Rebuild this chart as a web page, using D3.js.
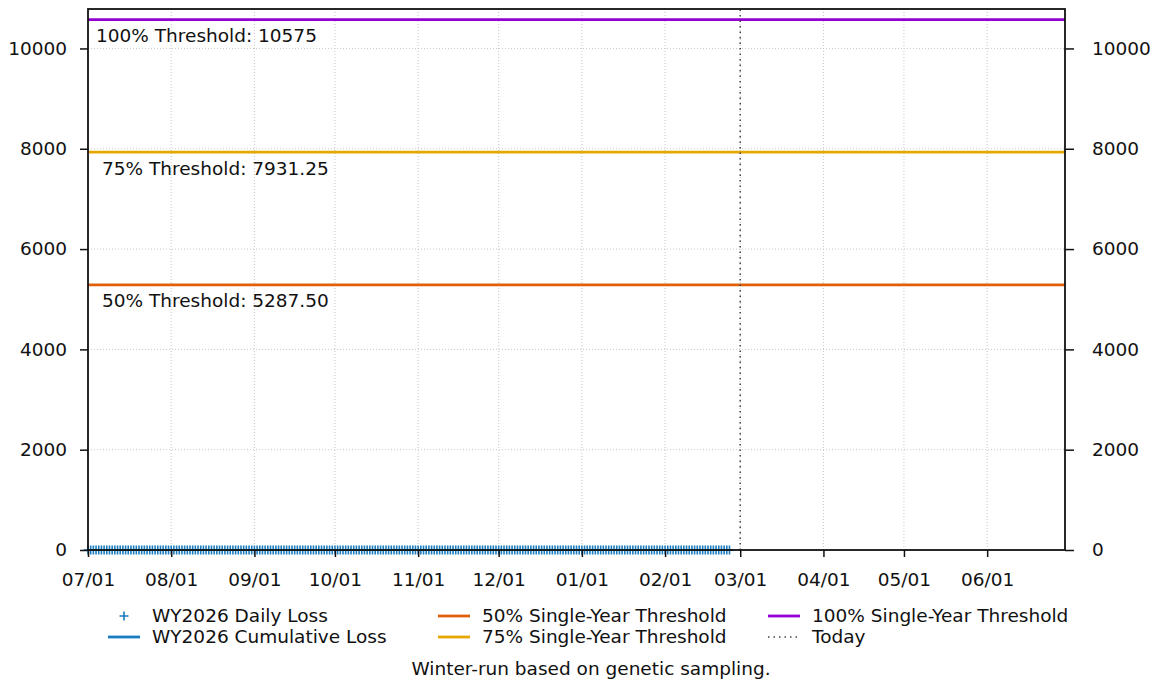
<!DOCTYPE html>
<html>
<head>
<meta charset="utf-8">
<script src="https://cdn.jsdelivr.net/npm/d3@7"></script>
<style>
  body { margin: 0; background: #fff; }
  svg text { font-family: "DejaVu Sans", sans-serif; fill: #111; }
</style>
</head>
<body>
<svg id="canvas_loss" width="1156" height="684"></svg>
<script>
'use strict';

/* water year window and sampling dates */
const yearStart = '2025-07-01';
const yearEnd = '2026-06-30';
const lastSample = '2026-02-25';
const today = '2026-03-01';

/* daily loss, one value per day from 07/01 to the last sample (all zero so far) */
const dailyLoss = [
  0,0,0,0,0,0,0,0,0,0,0,0,0,0,0,0,0,0,0,0,0,0,0,0,0,0,0,0,0,0,0,
  0,0,0,0,0,0,0,0,0,0,0,0,0,0,0,0,0,0,0,0,0,0,0,0,0,0,0,0,0,0,0,
  0,0,0,0,0,0,0,0,0,0,0,0,0,0,0,0,0,0,0,0,0,0,0,0,0,0,0,0,0,0,
  0,0,0,0,0,0,0,0,0,0,0,0,0,0,0,0,0,0,0,0,0,0,0,0,0,0,0,0,0,0,0,
  0,0,0,0,0,0,0,0,0,0,0,0,0,0,0,0,0,0,0,0,0,0,0,0,0,0,0,0,0,0,
  0,0,0,0,0,0,0,0,0,0,0,0,0,0,0,0,0,0,0,0,0,0,0,0,0,0,0,0,0,0,0,
  0,0,0,0,0,0,0,0,0,0,0,0,0,0,0,0,0,0,0,0,0,0,0,0,0,0,0,0,0,0,0,
  0,0,0,0,0,0,0,0,0,0,0,0,0,0,0,0,0,0,0,0,0,0,0,0,0
];
/* cumulative loss on the same days */
const cumulativeLoss = [
  0,0,0,0,0,0,0,0,0,0,0,0,0,0,0,0,0,0,0,0,0,0,0,0,0,0,0,0,0,0,0,
  0,0,0,0,0,0,0,0,0,0,0,0,0,0,0,0,0,0,0,0,0,0,0,0,0,0,0,0,0,0,0,
  0,0,0,0,0,0,0,0,0,0,0,0,0,0,0,0,0,0,0,0,0,0,0,0,0,0,0,0,0,0,
  0,0,0,0,0,0,0,0,0,0,0,0,0,0,0,0,0,0,0,0,0,0,0,0,0,0,0,0,0,0,0,
  0,0,0,0,0,0,0,0,0,0,0,0,0,0,0,0,0,0,0,0,0,0,0,0,0,0,0,0,0,0,
  0,0,0,0,0,0,0,0,0,0,0,0,0,0,0,0,0,0,0,0,0,0,0,0,0,0,0,0,0,0,0,
  0,0,0,0,0,0,0,0,0,0,0,0,0,0,0,0,0,0,0,0,0,0,0,0,0,0,0,0,0,0,0,
  0,0,0,0,0,0,0,0,0,0,0,0,0,0,0,0,0,0,0,0,0,0,0,0,0
];

/* single-year thresholds */
const thresholdNames = ['50%', '75%', '100%'];
const thresholdValues = [5287.50, 7931.25, 10575];
const thresholdLabels = ['50% Threshold: 5287.50', '75% Threshold: 7931.25', '100% Threshold: 10575'];
const thresholdColors = ['#e0600a', '#e6a800', '#9400d3'];

/* axis ticks */
const xTickLabels = ['07/01','08/01','09/01','10/01','11/01','12/01','01/01','02/01','03/01','04/01','05/01','06/01'];
const yTicks = [0, 2000, 4000, 6000, 8000, 10000];

const blue = '#1a7cc0';
const fontSize = 18.5;
const margin = { top: 9, right: 91, bottom: 134, left: 88 };
const width = 1156, height = 684;

const parse = d3.utcParse('%Y-%m-%d');

/* dates for each sampled day */
const days = d3.utcDay.range(parse(yearStart), d3.utcDay.offset(parse(lastSample), 1));
const daily = days.map((d, i) => ({ date: d, value: dailyLoss[i] }));
const cumulative = days.map((d, i) => ({ date: d, value: cumulativeLoss[i] }));

const X = d3.scaleUtc()
  .domain([parse(yearStart), parse(yearEnd)])
  .range([margin.left, width - margin.right]);
const Y = d3.scaleLinear()
  .domain([0, d3.max(thresholdValues) * 1.02])
  .range([height - margin.bottom, margin.top]);

const svg = d3.select('svg#canvas_loss');
const x0 = X.range()[0], x1 = X.range()[1];
const y0 = Y.range()[0], y1 = Y.range()[1];

// x ticks at the first of each month
const monthTicks = d3.utcMonth.range(parse(yearStart), d3.utcDay.offset(parse(yearEnd), 1));

/* grid */
let grid = svg.append('g').attr('id', 'grid')
  .attr('stroke', '#c8c8c8').attr('stroke-width', 1).attr('stroke-dasharray', '1,2');
grid.selectAll('line.v').data(monthTicks.slice(1)).enter().append('line')
  .attr('x1', d => X(d)).attr('x2', d => X(d)).attr('y1', y0).attr('y2', y1);
grid.selectAll('line.h').data(yTicks.slice(1)).enter().append('line')
  .attr('x1', x0).attr('x2', x1).attr('y1', d => Y(d)).attr('y2', d => Y(d));

/* threshold lines and their labels */
thresholdValues.forEach((v, i) => {
  svg.append('line')
    .attr('x1', x0).attr('x2', x1).attr('y1', Y(v)).attr('y2', Y(v))
    .attr('stroke', thresholdColors[i]).attr('stroke-width', 2.8);
  svg.append('text')
    .attr('x', x0 + (i === 2 ? 8 : 14)).attr('y', Y(v) + 22.5)
    .attr('font-size', fontSize)
    .text(thresholdLabels[i]);
});

/* today */
svg.append('line')
  .attr('x1', X(parse(today))).attr('x2', X(parse(today)))
  .attr('y1', y0).attr('y2', y1)
  .attr('stroke', '#444').attr('stroke-width', 1.5).attr('stroke-dasharray', '1.5,4');

/* cumulative loss line */
svg.append('path')
  .datum(cumulative)
  .attr('fill', 'none').attr('stroke', blue).attr('stroke-width', 2)
  .attr('d', d3.line().x(d => X(d.date)).y(d => Y(d.value)));

/* daily loss markers */
const plus = (s) => `M${-s},0H${s}M0,${-s}V${s}`;
svg.append('g').attr('id', 'points')
  .selectAll('path').data(daily).enter().append('path')
  .attr('transform', d => `translate(${X(d.date)},${Y(d.value)})`)
  .attr('d', plus(4.5))
  .attr('stroke', blue).attr('stroke-width', 1.6).attr('fill', 'none');

/* axes */
let xAxis = d3.axisBottom(X).tickValues(monthTicks).tickFormat((d, i) => xTickLabels[i]).tickSize(7).tickPadding(16);
let yLeft = d3.axisLeft(Y).tickValues(yTicks).tickFormat(d3.format('d')).tickSize(8).tickPadding(13);
let yRight = d3.axisRight(Y).tickValues(yTicks).tickFormat(d3.format('d')).tickSize(9).tickPadding(18);

const styleAxis = g => {
  g.select('.domain').remove();
  g.selectAll('line').attr('stroke', '#111').attr('stroke-width', 1.5);
  g.selectAll('text').attr('font-size', fontSize).attr('font-family', '"DejaVu Sans", sans-serif').attr('fill', '#111');
};
svg.append('g').attr('transform', `translate(0,${y0})`).call(xAxis).call(styleAxis);
svg.append('g').attr('transform', `translate(${x0},0)`).call(yLeft).call(styleAxis);
svg.append('g').attr('transform', `translate(${x1},0)`).call(yRight).call(styleAxis);

/* border */
svg.append('rect')
  .attr('x', x0).attr('y', y1).attr('width', x1 - x0).attr('height', y0 - y1)
  .attr('fill', 'none').attr('stroke', '#111').attr('stroke-width', 1.8);

/* legend */
const legendItems = [
  { label: 'WY2026 Daily Loss', kind: 'plus', color: blue, col: 0, row: 0 },
  { label: 'WY2026 Cumulative Loss', kind: 'line', color: blue, col: 0, row: 1 },
  { label: '50% Single-Year Threshold', kind: 'line', color: thresholdColors[0], col: 1, row: 0 },
  { label: '75% Single-Year Threshold', kind: 'line', color: thresholdColors[1], col: 1, row: 1 },
  { label: '100% Single-Year Threshold', kind: 'line', color: thresholdColors[2], col: 2, row: 0 },
  { label: 'Today', kind: 'dot', color: '#444', col: 2, row: 1 }
];
const colX = [108, 438, 768];
const rowY = [616, 637];
let legend = svg.append('g').attr('id', 'legend');
legendItems.forEach(it => {
  let lx = colX[it.col], ly = rowY[it.row];
  if (it.kind === 'plus') {
    legend.append('path').attr('transform', `translate(${lx + 16},${ly})`)
      .attr('d', plus(4.5)).attr('stroke', it.color).attr('stroke-width', 1.6);
  } else {
    legend.append('line').attr('x1', lx).attr('x2', lx + 32).attr('y1', ly).attr('y2', ly)
      .attr('stroke', it.color).attr('stroke-width', it.kind === 'dot' ? 1.5 : 2.8)
      .attr('stroke-dasharray', it.kind === 'dot' ? '1.5,4' : null);
  }
  legend.append('text').attr('x', lx + 44).attr('y', ly).attr('dy', '0.35em')
    .attr('font-size', fontSize).text(it.label);
});

/* caption */
svg.append('text')
  .attr('x', 591).attr('y', 669).attr('dy', '0.35em')
  .attr('text-anchor', 'middle').attr('font-size', fontSize)
  .text('Winter-run based on genetic sampling.');
</script>
</body>
</html>
